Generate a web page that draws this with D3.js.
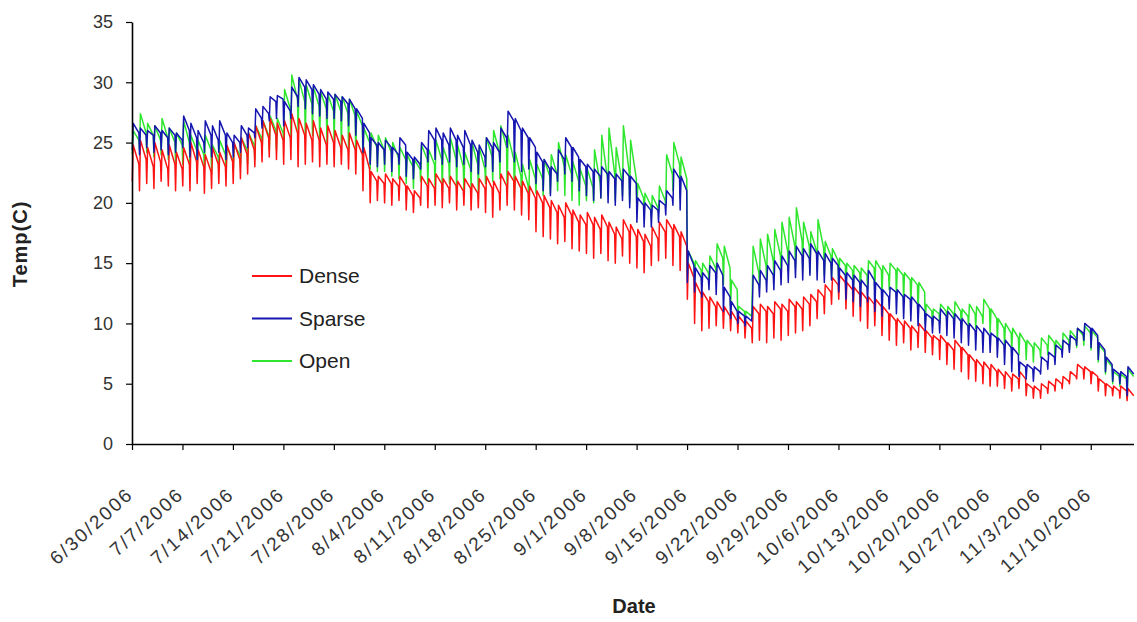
<!DOCTYPE html>
<html>
<head>
<meta charset="utf-8">
<script src="https://cdn.jsdelivr.net/npm/d3@7"></script>
<style>
  html, body { margin: 0; padding: 0; background: #fff; }
  svg { display: block; }
  text { font-family: "Liberation Sans", Arial, sans-serif; }
</style>
</head>
<body>
<svg id="chart" width="1137" height="622"></svg>
<script>
// Daily temperature record, 6/30/2006 - 11/15/2006, one row per week.
// For every day: lo = pre-dawn minimum, hi = value after morning warming,
// eve = value reached by the end of the slow evening/night cooling.
const startDay = "6/30/2006";
const seriesNames = ["Dense", "Sparse", "Open"];

const denseHi = [
  24.8, 25.2, 24.6, 25.0, 24.4, 24.8, 24.2,
  24.6, 25.0, 24.4, 24.0, 24.6, 24.2, 24.8,
  25.0, 25.4, 25.8, 26.4, 26.8, 27.0, 26.6,
  26.8, 27.4, 27.0, 26.6, 26.8, 26.2, 26.4,
  26.0, 25.6, 25.8, 25.2, 24.6, 22.6, 22.2,
  22.4, 22.0, 22.2, 21.4, 21.0, 22.2, 22.0,
  22.4, 22.0, 22.2, 21.8, 22.0, 21.6, 22.0,
  22.2, 21.8, 22.4, 22.6, 22.2, 21.8, 21.4,
  21.0, 20.6, 20.2, 19.8, 20.0, 19.4, 19.0,
  19.2, 18.8, 19.0, 18.4, 18.0, 18.6, 18.2,
  17.8, 17.4, 18.0, 18.4, 18.6, 18.2, 17.6,
  15.0, 13.4, 12.6, 12.2, 11.8, 11.4, 11.0,
  10.6, 10.2, 11.4, 11.6, 11.4, 11.8, 11.6,
  12.0, 11.8, 12.2, 12.4, 12.8, 13.2, 13.8,
  14.0, 13.4, 13.0, 12.6, 12.2, 12.0, 11.4,
  10.8, 10.4, 10.2, 9.8, 10.0, 9.4, 9.0,
  9.0, 8.4, 8.6, 8.0, 7.4, 7.0, 6.8,
  6.6, 6.2, 6.0, 5.8, 6.0, 5.0, 4.8,
  5.0, 5.2, 5.4, 5.6, 6.0, 6.6, 6.4,
  6.0, 5.4, 5.0, 4.8, 4.8, 4.6
];
const denseEve = [
  23.2, 23.6, 23.0, 23.4, 22.8, 23.2, 22.8,
  23.2, 23.4, 23.0, 22.6, 23.2, 23.0, 23.4,
  23.6, 24.0, 24.4, 25.0, 25.4, 25.6, 25.2,
  25.4, 25.8, 25.6, 25.2, 25.2, 24.8, 25.0,
  24.6, 24.4, 24.4, 24.0, 22.8, 21.8, 21.6,
  21.6, 21.4, 21.4, 20.6, 20.4, 21.4, 21.2,
  21.6, 21.2, 21.4, 21.0, 21.2, 20.8, 21.2,
  21.2, 20.8, 21.4, 21.8, 21.2, 20.8, 20.4,
  20.0, 19.6, 19.2, 18.8, 19.0, 18.4, 18.2,
  18.2, 17.8, 18.0, 17.4, 17.0, 17.6, 17.2,
  16.8, 16.4, 17.0, 17.6, 17.8, 17.2, 16.4,
  13.8, 12.4, 11.8, 11.4, 11.0, 10.6, 10.2,
  10.0, 9.6, 10.8, 11.0, 10.8, 11.2, 11.0,
  11.4, 11.2, 11.6, 11.8, 12.2, 12.6, 13.2,
  13.4, 12.8, 12.4, 12.0, 11.6, 11.4, 10.8,
  10.2, 9.8, 9.6, 9.2, 9.4, 8.8, 8.6,
  8.4, 7.8, 8.0, 7.4, 6.8, 6.4, 6.2,
  6.0, 5.6, 5.4, 5.4, 5.4, 4.6, 4.4,
  4.6, 4.8, 5.0, 5.2, 5.6, 6.2, 6.0,
  5.6, 5.0, 4.6, 4.4, 4.4, 4.0
];
const denseLo = [
  21.8, 21.0, 21.6, 21.2, 21.8, 21.4, 21.0,
  21.4, 21.0, 21.6, 20.8, 21.2, 21.6, 21.4,
  21.6, 22.0, 22.4, 23.0, 23.4, 23.8, 23.6,
  23.2, 23.6, 23.0, 23.2, 23.4, 23.0, 23.2,
  23.0, 23.2, 22.8, 22.4, 21.0, 20.0, 20.2,
  20.0, 19.8, 20.2, 19.4, 19.2, 19.8, 19.6,
  19.8, 19.6, 20.0, 19.4, 19.8, 19.4, 19.6,
  19.2, 18.8, 19.4, 19.8, 19.4, 19.0, 18.6,
  17.6, 17.2, 17.0, 16.6, 16.8, 16.2, 16.0,
  15.8, 15.4, 15.8, 15.2, 15.0, 15.6, 15.0,
  14.6, 14.2, 14.8, 15.2, 15.4, 14.8, 14.4,
  12.0, 10.0, 9.4, 9.6, 9.8, 9.6, 9.4,
  9.2, 8.8, 8.4, 8.6, 8.4, 8.8, 8.6,
  9.0, 9.2, 9.4, 9.8, 10.4, 10.8, 11.6,
  12.0, 11.2, 10.6, 10.2, 9.6, 9.8, 9.0,
  8.6, 8.2, 8.4, 7.8, 8.0, 7.6, 7.4,
  7.0, 6.6, 6.2, 6.0, 5.4, 5.2, 5.0,
  4.8, 4.8, 4.6, 4.4, 4.6, 4.0, 3.8,
  3.8, 4.2, 4.4, 4.6, 5.0, 5.4, 5.4,
  5.0, 4.4, 4.0, 4.0, 3.8, 3.6
];

const sparseHi = [
  26.6, 26.2, 26.0, 26.4, 26.0, 26.2, 25.8,
  27.2, 26.6, 26.0, 26.8, 26.4, 26.8, 25.8,
  25.6, 26.4, 26.2, 27.8, 28.0, 28.8, 28.9,
  28.4, 29.6, 30.4, 30.2, 29.8, 29.4, 29.2,
  29.0, 28.8, 28.6, 27.8, 26.6, 25.4, 25.0,
  25.2, 24.6, 25.4, 24.2, 23.8, 25.0, 26.0,
  26.2, 25.8, 26.2, 25.6, 26.0, 25.2, 24.8,
  25.4, 25.0, 26.2, 27.6, 27.0, 26.2, 25.4,
  24.2, 23.6, 23.0, 24.4, 25.4, 24.6, 23.6,
  23.2, 22.8, 23.0, 22.6, 22.4, 22.8, 22.2,
  20.4, 20.0, 19.8, 20.2, 21.0, 22.8, 22.2,
  16.0, 14.6, 14.2, 14.8, 15.0, 13.0, 11.8,
  11.0, 10.6, 14.0, 14.4, 14.8, 15.2, 15.6,
  16.0, 16.4, 16.2, 16.6, 16.0, 15.8, 15.4,
  14.6, 14.2, 14.0, 13.6, 14.4, 13.4, 12.8,
  13.0, 12.8, 12.4, 12.2, 11.6, 10.8, 10.6,
  11.2, 11.0, 10.8, 10.4, 10.0, 9.8, 9.6,
  9.2, 8.8, 8.6, 8.0, 6.8, 6.6, 6.4,
  7.2, 7.6, 8.2, 8.6, 9.0, 9.6, 10.0,
  9.6, 8.4, 7.2, 6.2, 6.0, 6.4
];
const sparseEve = [
  25.8, 25.6, 25.6, 25.8, 25.4, 25.6, 25.2,
  26.0, 25.4, 25.0, 25.6, 25.2, 25.6, 25.0,
  25.0, 25.6, 25.8, 27.0, 27.4, 28.4, 28.6,
  27.6, 28.8, 29.6, 29.4, 29.0, 28.6, 28.6,
  28.4, 28.2, 27.8, 27.0, 25.8, 24.8, 24.4,
  24.6, 24.0, 24.8, 23.6, 23.2, 24.4, 25.2,
  25.2, 24.8, 25.2, 24.6, 24.8, 24.2, 23.8,
  24.6, 24.2, 25.4, 26.8, 26.0, 25.4, 24.6,
  23.4, 22.8, 22.4, 23.6, 24.6, 23.8, 23.0,
  22.6, 22.2, 22.4, 22.0, 21.8, 22.2, 21.6,
  19.8, 19.4, 19.4, 19.8, 20.4, 22.0, 21.0,
  14.8, 13.8, 13.6, 14.2, 14.0, 12.2, 11.0,
  10.6, 10.2, 13.2, 13.6, 14.0, 14.4, 14.8,
  15.2, 15.6, 15.4, 15.8, 15.2, 15.0, 14.8,
  14.0, 13.6, 13.4, 13.0, 13.6, 12.8, 12.2,
  12.6, 12.2, 12.0, 11.6, 11.0, 10.4, 10.2,
  10.6, 10.4, 10.2, 9.8, 9.4, 9.2, 9.0,
  8.8, 8.2, 8.0, 7.4, 6.4, 6.2, 6.0,
  6.8, 7.2, 7.8, 8.2, 8.6, 9.2, 9.6,
  9.0, 7.8, 6.6, 5.8, 5.6, 5.8
];
const sparseLo = [
  24.4, 24.0, 24.6, 24.2, 24.4, 24.0, 24.2,
  24.6, 23.8, 23.6, 24.2, 23.8, 24.2, 23.6,
  23.8, 24.2, 24.6, 25.4, 26.2, 26.8, 27.0,
  26.4, 27.0, 28.0, 27.8, 27.4, 27.2, 27.0,
  27.0, 26.8, 26.4, 25.6, 24.2, 23.2, 23.0,
  23.2, 22.6, 23.2, 22.2, 22.0, 22.8, 23.4,
  23.6, 23.2, 23.4, 23.0, 23.2, 22.6, 22.4,
  23.0, 22.6, 23.4, 24.6, 23.4, 22.6, 22.8,
  21.6, 21.0, 20.6, 21.8, 22.4, 21.8, 21.0,
  20.6, 20.2, 20.4, 20.0, 19.8, 20.2, 19.6,
  18.4, 18.0, 18.0, 18.4, 19.0, 19.8, 19.4,
  13.4, 12.6, 12.2, 12.8, 12.4, 11.0, 10.4,
  10.0, 9.8, 11.0, 12.2, 12.6, 12.8, 13.2,
  13.4, 13.8, 13.6, 14.0, 13.6, 13.4, 13.6,
  12.6, 12.0, 11.8, 11.4, 11.8, 11.0, 10.6,
  11.2, 10.8, 10.4, 10.2, 9.8, 9.4, 9.2,
  9.2, 9.0, 8.8, 8.4, 8.2, 7.8, 7.6,
  7.6, 7.2, 6.6, 6.0, 5.6, 5.4, 5.2,
  5.8, 6.2, 6.6, 7.2, 7.6, 8.2, 8.6,
  8.0, 7.0, 6.0, 5.2, 5.0, 4.0
];

const openHi = [
  26.0, 27.4, 26.6, 26.4, 27.0, 26.2, 25.8,
  26.8, 25.6, 25.2, 25.6, 24.8, 25.2, 24.6,
  24.8, 25.4, 25.8, 26.4, 26.8, 27.2, 27.0,
  29.4, 30.6, 30.2, 29.8, 29.6, 29.2, 29.0,
  29.0, 28.8, 28.6, 27.6, 26.2, 25.8, 25.6,
  25.4, 25.0, 24.6, 24.0, 23.6, 24.8, 24.4,
  25.2, 24.6, 25.4, 24.8, 24.2, 25.0, 24.6,
  25.4, 26.0, 26.4, 25.6, 24.2, 23.2, 23.6,
  23.2, 23.6, 24.0, 25.0, 24.0, 23.4, 22.8,
  22.8, 24.4, 25.6, 26.2, 24.6, 26.4, 25.2,
  21.6, 20.8, 20.6, 21.4, 24.0, 25.0, 23.8,
  16.0, 15.2, 15.0, 15.6, 16.6, 16.4, 13.6,
  11.4, 11.0, 16.4, 17.0, 17.4, 17.8, 18.4,
  18.8, 19.6, 18.4, 17.6, 18.6, 16.8, 16.2,
  15.4, 15.0, 14.8, 14.6, 15.2, 15.2, 14.8,
  15.0, 14.6, 14.2, 13.8, 13.4, 11.6, 11.2,
  11.6, 11.4, 11.8, 11.2, 11.6, 11.4, 12.0,
  11.2, 10.4, 10.0, 9.6, 9.2, 8.6, 8.4,
  8.8, 9.0, 8.6, 9.2, 9.4, 9.6, 9.8,
  9.4, 8.2, 7.0, 6.0, 5.8, 6.2
];
const openEve = [
  25.2, 25.8, 25.6, 25.2, 25.4, 25.0, 24.8,
  25.0, 24.4, 24.0, 24.4, 23.8, 24.0, 23.6,
  24.0, 24.4, 24.8, 25.4, 25.6, 26.0, 25.8,
  27.8, 28.6, 28.4, 28.2, 28.0, 27.8, 27.6,
  27.6, 27.4, 27.2, 26.4, 25.0, 24.6, 24.4,
  24.2, 23.8, 23.6, 23.0, 22.8, 23.6, 23.2,
  23.6, 23.2, 23.6, 23.0, 22.8, 23.2, 22.8,
  23.8, 24.2, 24.6, 23.6, 22.2, 21.4, 22.0,
  22.0, 22.2, 22.4, 23.0, 22.4, 21.8, 21.4,
  21.2, 21.6, 22.0, 22.4, 21.8, 22.6, 22.0,
  20.4, 19.8, 19.6, 20.2, 22.4, 23.2, 22.0,
  15.0, 14.4, 14.2, 14.6, 15.4, 14.6, 12.8,
  11.0, 10.6, 14.2, 14.8, 15.2, 15.6, 16.0,
  16.4, 16.8, 16.4, 16.0, 16.2, 15.6, 15.2,
  14.8, 14.4, 14.2, 14.0, 14.6, 14.4, 14.0,
  14.4, 14.0, 13.6, 13.2, 12.6, 11.0, 10.8,
  11.0, 10.8, 11.0, 10.6, 10.8, 10.6, 11.2,
  10.4, 9.6, 9.2, 8.8, 8.4, 8.0, 7.8,
  8.2, 8.4, 8.0, 8.6, 8.8, 9.0, 9.2,
  8.8, 7.6, 6.4, 5.6, 5.4, 5.6
];
const openLo = [
  24.0, 24.4, 24.2, 23.8, 24.0, 23.6, 23.4,
  23.2, 22.8, 22.6, 22.8, 22.4, 22.8, 22.2,
  22.6, 23.0, 23.2, 23.6, 24.0, 24.4, 24.4,
  25.2, 25.6, 25.8, 25.4, 25.6, 25.2, 25.0,
  25.0, 24.8, 24.6, 24.0, 23.0, 22.8, 22.6,
  22.6, 22.2, 22.0, 21.6, 21.2, 21.8, 21.6,
  21.4, 21.0, 21.6, 21.0, 20.8, 21.2, 20.8,
  21.6, 21.8, 22.0, 21.0, 20.4, 20.2, 20.6,
  20.8, 20.6, 20.8, 21.0, 20.6, 20.2, 19.8,
  20.2, 20.0, 20.4, 20.6, 20.2, 20.6, 20.0,
  19.4, 19.0, 18.8, 19.2, 19.8, 21.0, 20.4,
  14.0, 13.6, 13.2, 13.4, 14.0, 13.2, 11.4,
  10.4, 10.2, 12.4, 13.0, 13.6, 13.8, 14.0,
  14.4, 14.6, 14.4, 14.2, 14.4, 14.0, 13.8,
  13.2, 12.8, 12.6, 12.4, 12.8, 12.6, 12.2,
  12.8, 12.4, 12.0, 11.6, 11.0, 10.0, 9.8,
  10.0, 9.8, 10.0, 9.6, 9.8, 9.6, 10.0,
  9.2, 8.6, 8.2, 7.8, 7.4, 7.0, 6.8,
  7.2, 7.4, 7.0, 7.6, 7.8, 8.0, 8.2,
  7.8, 6.8, 5.8, 5.0, 4.8, 3.8
];

const yTicks = [0, 5, 10, 15, 20, 25, 30, 35];
const xTickLabels = [
  "6/30/2006", "7/7/2006", "7/14/2006", "7/21/2006", "7/28/2006",
  "8/4/2006", "8/11/2006", "8/18/2006", "8/25/2006", "9/1/2006",
  "9/8/2006", "9/15/2006", "9/22/2006", "9/29/2006", "10/6/2006",
  "10/13/2006", "10/20/2006", "10/27/2006", "11/3/2006", "11/10/2006"
];
const dayCount = denseHi.length;

const colors = { Dense: "#ff1212", Sparse: "#1515b0", Open: "#2ee62e" };

// ---- layout ----
const svg = d3.select("#chart");
const plotLeft = 132, plotRight = 1134, plotTop = 22, plotBottom = 444;

const parse = d3.timeParse("%m/%d/%Y");
const t0 = parse(startDay);
const x = d3.scaleTime()
  .domain([t0, d3.timeDay.offset(t0, dayCount)])
  .range([plotLeft, plotRight]);
const y = d3.scaleLinear().domain([0, 35]).range([plotBottom, plotTop]);

// Expand the daily readings into a within-day trace: minimum, warm-up, slow cooling.
function trace(lo, hi, eve) {
  const pts = [];
  for (let i = 0; i < lo.length; i++) {
    const day = d3.timeDay.offset(t0, i);
    pts.push([d3.timeHour.offset(day, 1), lo[i]]);
    pts.push([d3.timeHour.offset(day, 4), hi[i]]);
    pts.push([d3.timeHour.offset(day, 23), eve[i]]);
  }
  return pts;
}

const series = [
  { name: "Open", pts: trace(openLo, openHi, openEve) },
  { name: "Dense", pts: trace(denseLo, denseHi, denseEve) },
  { name: "Sparse", pts: trace(sparseLo, sparseHi, sparseEve) }
];

const line = d3.line().x(d => x(d[0])).y(d => y(d[1]));

svg.append("g").selectAll("path")
  .data(series)
  .join("path")
  .attr("d", d => line(d.pts))
  .attr("fill", "none")
  .attr("stroke", d => colors[d.name])
  .attr("stroke-width", 1.5)
  .attr("stroke-linejoin", "round");

// ---- axes ----
const yAxis = svg.append("g")
  .attr("transform", `translate(${plotLeft},0)`)
  .call(d3.axisLeft(y).tickValues(yTicks).tickSize(6).tickSizeOuter(0).tickPadding(13));
yAxis.select(".domain").attr("stroke", "#000").attr("stroke-width", 1.6);
yAxis.selectAll(".tick line").attr("stroke", "#000").attr("stroke-width", 1.2);
yAxis.selectAll(".tick text")
  .attr("font-size", 18).attr("fill", "#333")
  .attr("font-family", "Liberation Sans, Arial, sans-serif");

const xTickDates = xTickLabels.map(parse);
const xAxis = svg.append("g")
  .attr("transform", `translate(0,${plotBottom})`)
  .call(d3.axisBottom(x).tickValues(xTickDates).tickSize(6).tickSizeOuter(0)
    .tickFormat((d, i) => xTickLabels[i]));
xAxis.select(".domain").attr("stroke", "#000").attr("stroke-width", 1.6)
  .attr("d", `M${plotLeft},0.5H${plotRight}`);
xAxis.selectAll(".tick line").attr("stroke", "#000").attr("stroke-width", 1.2);
xAxis.selectAll(".tick text")
  .attr("font-size", 19).attr("fill", "#333")
  .attr("font-family", "Liberation Sans, Arial, sans-serif")
  .attr("letter-spacing", 2.2)
  .attr("text-anchor", "end")
  .attr("dy", null)
  .attr("y", null)
  .attr("transform", "translate(2,52) rotate(-42)");

// ---- titles ----
svg.append("text")
  .attr("transform", "translate(27,244) rotate(-90)")
  .attr("text-anchor", "middle")
  .attr("font-size", 20).attr("font-weight", "bold").attr("fill", "#222")
  .attr("letter-spacing", 1)
  .text("Temp(C)");

svg.append("text")
  .attr("x", 634).attr("y", 613)
  .attr("text-anchor", "middle")
  .attr("font-size", 20).attr("font-weight", "bold").attr("fill", "#222")
  .text("Date");

// ---- legend ----
const legend = svg.append("g").selectAll("g")
  .data(seriesNames)
  .join("g")
  .attr("transform", (d, i) => `translate(252,${276 + i * 42.5})`);
legend.append("line")
  .attr("x1", 0).attr("x2", 40).attr("y1", 0).attr("y2", 0)
  .attr("stroke", d => colors[d]).attr("stroke-width", 2.2);
legend.append("text")
  .attr("x", 47).attr("y", 7)
  .attr("font-size", 21).attr("fill", "#222")
  .text(d => d);
</script>
</body>
</html>
